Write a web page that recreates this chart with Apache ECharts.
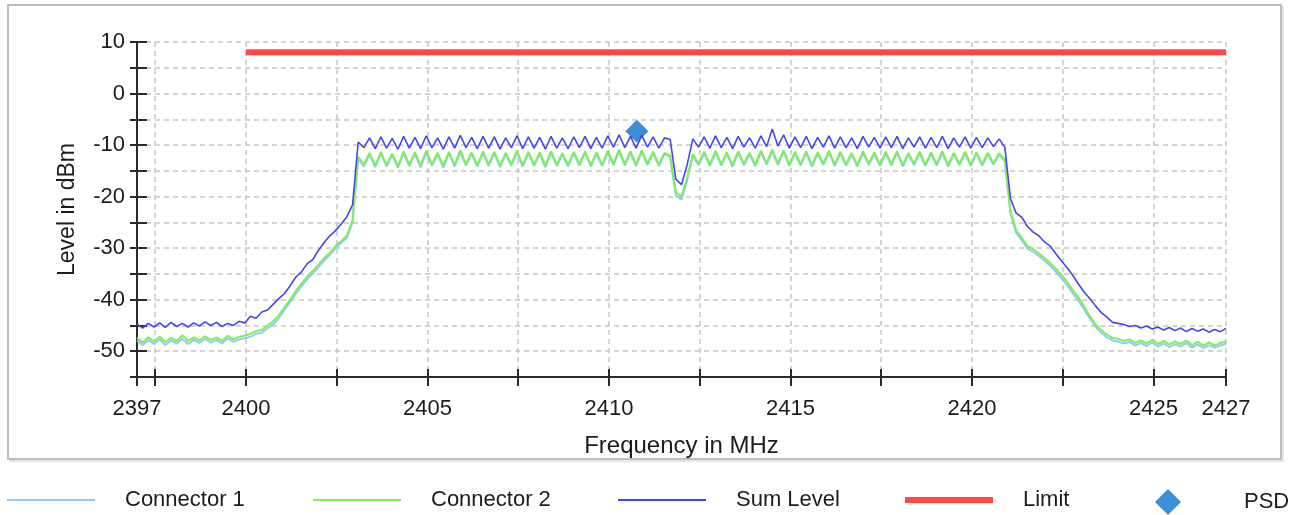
<!DOCTYPE html>
<html>
<head>
<meta charset="utf-8">
<script src="https://cdn.jsdelivr.net/npm/echarts@6/dist/echarts.min.js"></script>
<style>
  html, body { margin: 0; padding: 0; background: #ffffff; }
  #chart { width: 1298px; height: 515px; }
</style>
</head>
<body>
<div id="chart"></div>
<script>
// Spectrum sweep: 2397 .. 2427 MHz, one sample every 0.15625 MHz (193 samples)
const freqStart = 2397;
const freqStep = 0.15625;

const connector1 = [
  -47.9, -48.8, -47.8, -48.6, -47.7, -48.8, -47.9, -48.5, -47.6, -48.6, -47.8, -48.4, -47.6, -48.3, -47.8, -48.5, -47.5, -48.2, -47.7,
  -47.5, -47.2, -46.6, -46.4, -45.6, -44.8, -43.6, -42.0, -40.5, -38.8, -37.4, -36.0, -34.9, -33.7, -32.4, -31.3, -30.0, -29.0, -28.0, -25.0,
  -12.6, -14.2, -11.8, -14.3, -11.6, -14.2, -11.9, -14.4, -11.5, -14.1, -11.7, -14.3, -11.4, -14.0, -11.8, -14.4,
  -11.6, -14.2, -11.3, -14.0, -11.7, -14.2, -11.5, -14.1, -11.6, -14.3, -11.8, -14.0, -11.4, -14.2, -11.6, -14.1,
  -11.7, -14.3, -11.5, -14.1, -11.8, -14.2, -11.6, -14.0, -11.5, -14.2, -11.7, -14.1, -11.4, -13.9, -11.2, -14.0,
  -11.5, -14.1, -11.3, -13.9, -11.6, -14.1, -11.8, -12.3,
  -19.8, -20.6, -16.8,
  -12.1, -13.9, -11.6, -14.1, -11.4, -14.0, -11.7, -14.2, -11.5, -13.9, -11.8, -14.1, -11.4, -13.8, -11.2, -13.9,
  -11.3, -14.1, -11.6, -14.0, -11.5, -14.2, -11.7, -13.9, -11.4, -14.1, -11.6, -14.0, -11.8, -14.2, -11.5, -13.9,
  -11.7, -14.1, -11.6, -14.0, -11.5, -14.2, -11.8, -13.9, -11.6, -14.1, -11.7, -14.0, -11.5, -14.2, -11.8, -13.9,
  -11.6, -14.1, -11.7, -14.0, -11.8, -13.8, -11.9, -13.1,
  -23.2, -27.0, -28.5, -30.1, -30.7, -31.5, -32.4, -33.4, -34.6, -35.8, -37.2, -38.8, -40.2, -41.9, -43.7, -45.3,
  -46.4, -47.3, -47.9, -48.1, -48.5, -48.2, -48.9, -48.4, -49.0, -48.3, -49.1, -48.5, -49.2, -48.6, -49.1, -48.4,
  -49.3, -48.7, -49.4, -48.8, -49.3, -48.9, -48.6
];

const connector2 = [
  -47.4, -48.3, -47.3, -48.1, -47.2, -48.2, -47.4, -48.0, -46.9, -48.0, -47.3, -47.9, -47.1, -47.8, -47.3, -48.0, -47.0, -47.7, -47.2,
  -47.0, -46.6, -46.1, -45.9, -45.0, -44.2, -43.0, -41.5, -40.0, -38.3, -36.9, -35.5, -34.4, -33.2, -31.9, -30.9, -29.6, -28.6, -27.6, -24.5,
  -12.3, -13.8, -11.5, -14.0, -11.3, -13.9, -11.6, -14.1, -11.2, -13.8, -11.4, -14.0, -11.1, -13.7, -11.5, -14.0,
  -11.3, -13.9, -11.0, -13.7, -11.4, -13.9, -11.2, -13.8, -11.3, -14.0, -11.5, -13.7, -11.1, -13.9, -11.3, -13.8,
  -11.4, -14.0, -11.2, -13.8, -11.5, -13.9, -11.3, -13.7, -11.2, -13.9, -11.4, -13.8, -11.1, -13.6, -10.9, -13.7,
  -11.2, -13.8, -11.0, -13.6, -11.3, -13.8, -11.5, -12.0,
  -19.2, -20.0, -16.3,
  -11.8, -13.6, -11.3, -13.8, -11.1, -13.7, -11.4, -13.9, -11.2, -13.6, -11.5, -13.8, -11.1, -13.5, -10.9, -13.6,
  -11.0, -13.8, -11.3, -13.7, -11.2, -13.9, -11.4, -13.6, -11.1, -13.8, -11.3, -13.7, -11.5, -13.9, -11.2, -13.6,
  -11.4, -13.8, -11.3, -13.7, -11.2, -13.9, -11.5, -13.6, -11.3, -13.8, -11.4, -13.7, -11.2, -13.9, -11.5, -13.6,
  -11.3, -13.8, -11.4, -13.7, -11.5, -13.5, -11.6, -12.8,
  -22.8, -26.5, -28.0, -29.6, -30.2, -31.0, -31.9, -32.9, -34.0, -35.2, -36.6, -38.2, -39.6, -41.3, -43.2, -44.8,
  -45.9, -46.8, -47.4, -47.6, -48.0, -47.7, -48.4, -47.9, -48.5, -47.8, -48.6, -48.0, -48.7, -48.1, -48.6, -47.9,
  -48.8, -48.2, -48.9, -48.3, -48.9, -48.4, -48.1
];

const sumLevel = [
  -44.7, -45.5, -44.6, -45.3, -44.5, -45.4, -44.4, -45.2, -44.6, -45.3, -44.5, -45.1, -44.3, -45.0, -44.4, -45.2, -44.6, -45.0, -44.2,
  -44.5, -43.2, -43.6, -42.4, -42.0, -40.9, -39.8, -38.8, -37.3, -35.6, -34.6, -33.0, -32.2, -30.4, -28.9, -27.6, -26.6, -25.3, -23.9, -21.6,
  -9.4, -10.5, -8.6, -10.7, -8.4, -10.6, -8.7, -10.8, -8.3, -10.6, -8.5, -10.7, -8.2, -10.5, -8.6, -10.8,
  -8.4, -10.6, -8.1, -10.5, -8.5, -10.7, -8.3, -10.6, -8.4, -10.8, -8.6, -10.5, -8.2, -10.7, -8.4, -10.6,
  -8.5, -10.8, -8.3, -10.6, -8.6, -10.7, -8.4, -10.5, -8.3, -10.7, -8.5, -10.6, -8.2, -10.4, -8.0, -10.5,
  -8.3, -10.6, -8.1, -10.4, -8.4, -10.6, -8.6, -8.9,
  -16.6, -17.7, -13.8,
  -8.8, -10.4, -8.4, -10.6, -8.2, -10.5, -8.5, -10.7, -8.3, -10.4, -8.6, -10.6, -8.2, -10.3, -6.9, -10.2,
  -8.0, -10.6, -8.4, -10.5, -8.3, -10.7, -8.5, -10.4, -8.2, -10.6, -8.4, -10.5, -8.6, -10.7, -8.3, -10.4,
  -8.5, -10.6, -8.4, -10.5, -8.3, -10.7, -8.6, -10.4, -8.4, -10.6, -8.5, -10.5, -8.3, -10.7, -8.6, -10.4,
  -8.4, -10.6, -8.5, -10.5, -8.6, -10.3, -8.8, -10.4,
  -20.4, -23.2, -24.0, -25.8, -26.9, -27.6, -28.8, -29.6, -31.1, -32.5, -33.8, -35.3, -37.0, -38.5, -39.8, -41.2,
  -42.5, -43.4, -44.4, -44.6, -44.8, -45.2, -45.0, -45.5, -45.1, -45.7, -45.3, -45.9, -45.4, -46.0, -45.5, -46.2,
  -45.6, -46.1, -45.7, -46.3, -45.8, -46.2, -45.6
];

const limitFreq = [2400, 2427];
const limitLevel = [8, 8];
const psdFreq = 2410.77;
const psdLevel = -7.3;

const xTickValues = [2397, 2397.5, 2400, 2402.5, 2405, 2407.5, 2410, 2412.5, 2415, 2417.5, 2420, 2422.5, 2425, 2427];
const xLabelValues = [2397, 2400, 2405, 2410, 2415, 2420, 2425, 2427];
const seriesNames = ['Connector 1', 'Connector 2', 'Sum Level', 'Limit', 'PSD'];
const legendLeft = [6, 312, 617, 902, 1155];
const legendLineWidth = [2, 2, 2, 6, 0];

const FONT = '"Liberation Sans", Arial, Helvetica, sans-serif';
const AXIS_COLOR = '#2a2a2a';
const GRID_COLOR = '#c6c6c6';
const TEXT_COLOR = '#1c1c1c';

function toPairs(levels) {
  return levels.map((v, i) => [freqStart + i * freqStep, v]);
}

const chart = echarts.init(document.getElementById('chart'), null, { renderer: 'canvas' });

const xBase = { type: 'value', min: 2397, max: 2427, position: 'bottom' };
const yBase = { type: 'value', min: -55, max: 10, interval: 5, position: 'left' };

// one legend block per entry so each sits at its own column
const legends = seriesNames.map((name, k) => {
  const isMarker = name === 'PSD';
  return {
    data: [name],
    left: legendLeft[k],
    top: 489,
    padding: 0,
    orient: 'horizontal',
    itemWidth: isMarker ? 26 : 88,
    itemHeight: 26,
    selectedMode: false,
    // line entries show only the stroke, not the marker dot
    itemStyle: isMarker ? { opacity: 1 } : { opacity: 0 },
    lineStyle: isMarker ? {} : { width: legendLineWidth[k] },
    textStyle: { fontFamily: FONT, fontSize: 22, color: TEXT_COLOR,
                 padding: [0, 0, 0, isMarker ? 58 : 25] }
  };
});

const option = {
  animation: false,
  backgroundColor: '#ffffff',
  textStyle: { fontFamily: FONT },
  graphic: [
    { type: 'rect', z: -10, silent: true,
      shape: { x: 10, y: 7, width: 1273, height: 454 },
      style: { fill: 'none', stroke: '#e4e4e4', lineWidth: 2 } },
    { type: 'rect', z: -9, silent: true,
      shape: { x: 8, y: 5, width: 1273, height: 454 },
      style: { fill: '#ffffff', stroke: '#bdbdbd', lineWidth: 2 } }
  ],
  grid: { left: 137, right: 72, top: 42, bottom: 138, containLabel: false, outerBoundsMode: 'none' },
  legend: legends,
  xAxis: [
    Object.assign({}, xBase, {
      name: 'Frequency in MHz',
      nameLocation: 'middle',
      nameGap: 57,
      nameTextStyle: { fontFamily: FONT, fontSize: 24, color: TEXT_COLOR, verticalAlign: 'top' },
      axisLine: { show: true, onZero: false, lineStyle: { color: AXIS_COLOR, width: 2 } },
      axisTick: { show: true, inside: false, length: 9, customValues: xTickValues,
                  lineStyle: { color: AXIS_COLOR, width: 2 } },
      axisLabel: { show: true, margin: 21, customValues: xLabelValues,
                   fontFamily: FONT, fontSize: 22, color: TEXT_COLOR,
                   formatter: v => String(v) },
      splitLine: { show: true, lineStyle: { color: GRID_COLOR, width: 1.5, type: [5, 4] } }
    }),
    Object.assign({}, xBase, {
      axisLine: { show: false, onZero: false },
      axisTick: { show: true, inside: true, length: 8, customValues: xTickValues,
                  lineStyle: { color: AXIS_COLOR, width: 2 } },
      axisLabel: { show: false },
      splitLine: { show: false }
    })
  ],
  yAxis: [
    Object.assign({}, yBase, {
      name: 'Level in dBm',
      nameLocation: 'middle',
      nameGap: 58,
      nameRotate: 90,
      nameTextStyle: { fontFamily: FONT, fontSize: 23, color: TEXT_COLOR },
      axisLine: { show: true, onZero: false, lineStyle: { color: AXIS_COLOR, width: 2 } },
      axisTick: { show: true, inside: false, length: 7, lineStyle: { color: AXIS_COLOR, width: 2 } },
      axisLabel: { show: true, margin: 12, fontFamily: FONT, fontSize: 22, color: TEXT_COLOR,
                   formatter: v => (v % 10 === 0 ? String(v) : '') },
      splitLine: { show: true, lineStyle: { color: GRID_COLOR, width: 1.5, type: [5, 4] } }
    }),
    Object.assign({}, yBase, {
      axisLine: { show: false, onZero: false },
      axisTick: { show: true, inside: true, length: 10, lineStyle: { color: AXIS_COLOR, width: 2 } },
      axisLabel: { show: false },
      splitLine: { show: false }
    })
  ],
  series: [
    { name: 'Connector 1', type: 'line', data: toPairs(connector1), symbol: 'none', silent: true,
      color: '#95caf3', lineStyle: { color: '#95caf3', width: 2 }, emphasis: { disabled: true } },
    { name: 'Connector 2', type: 'line', data: toPairs(connector2), symbol: 'none', silent: true,
      color: '#7eee5c', lineStyle: { color: '#7eee5c', width: 2 }, emphasis: { disabled: true } },
    { name: 'Sum Level', type: 'line', data: toPairs(sumLevel), symbol: 'none', silent: true,
      color: '#4646ee', lineStyle: { color: '#4646ee', width: 1.6 }, emphasis: { disabled: true } },
    { name: 'Limit', type: 'line', data: limitFreq.map((f, i) => [f, limitLevel[i]]), symbol: 'none', silent: true,
      color: '#ff4848', lineStyle: { color: '#ff4848', width: 6 }, emphasis: { disabled: true } },
    { name: 'PSD', type: 'scatter', data: [[psdFreq, psdLevel]], symbol: 'diamond', symbolSize: 23,
      symbolKeepAspect: true, silent: true,
      itemStyle: { color: '#3b8fd8', opacity: 1 }, emphasis: { disabled: true } }
  ]
};

chart.setOption(option);
</script>
</body>
</html>
